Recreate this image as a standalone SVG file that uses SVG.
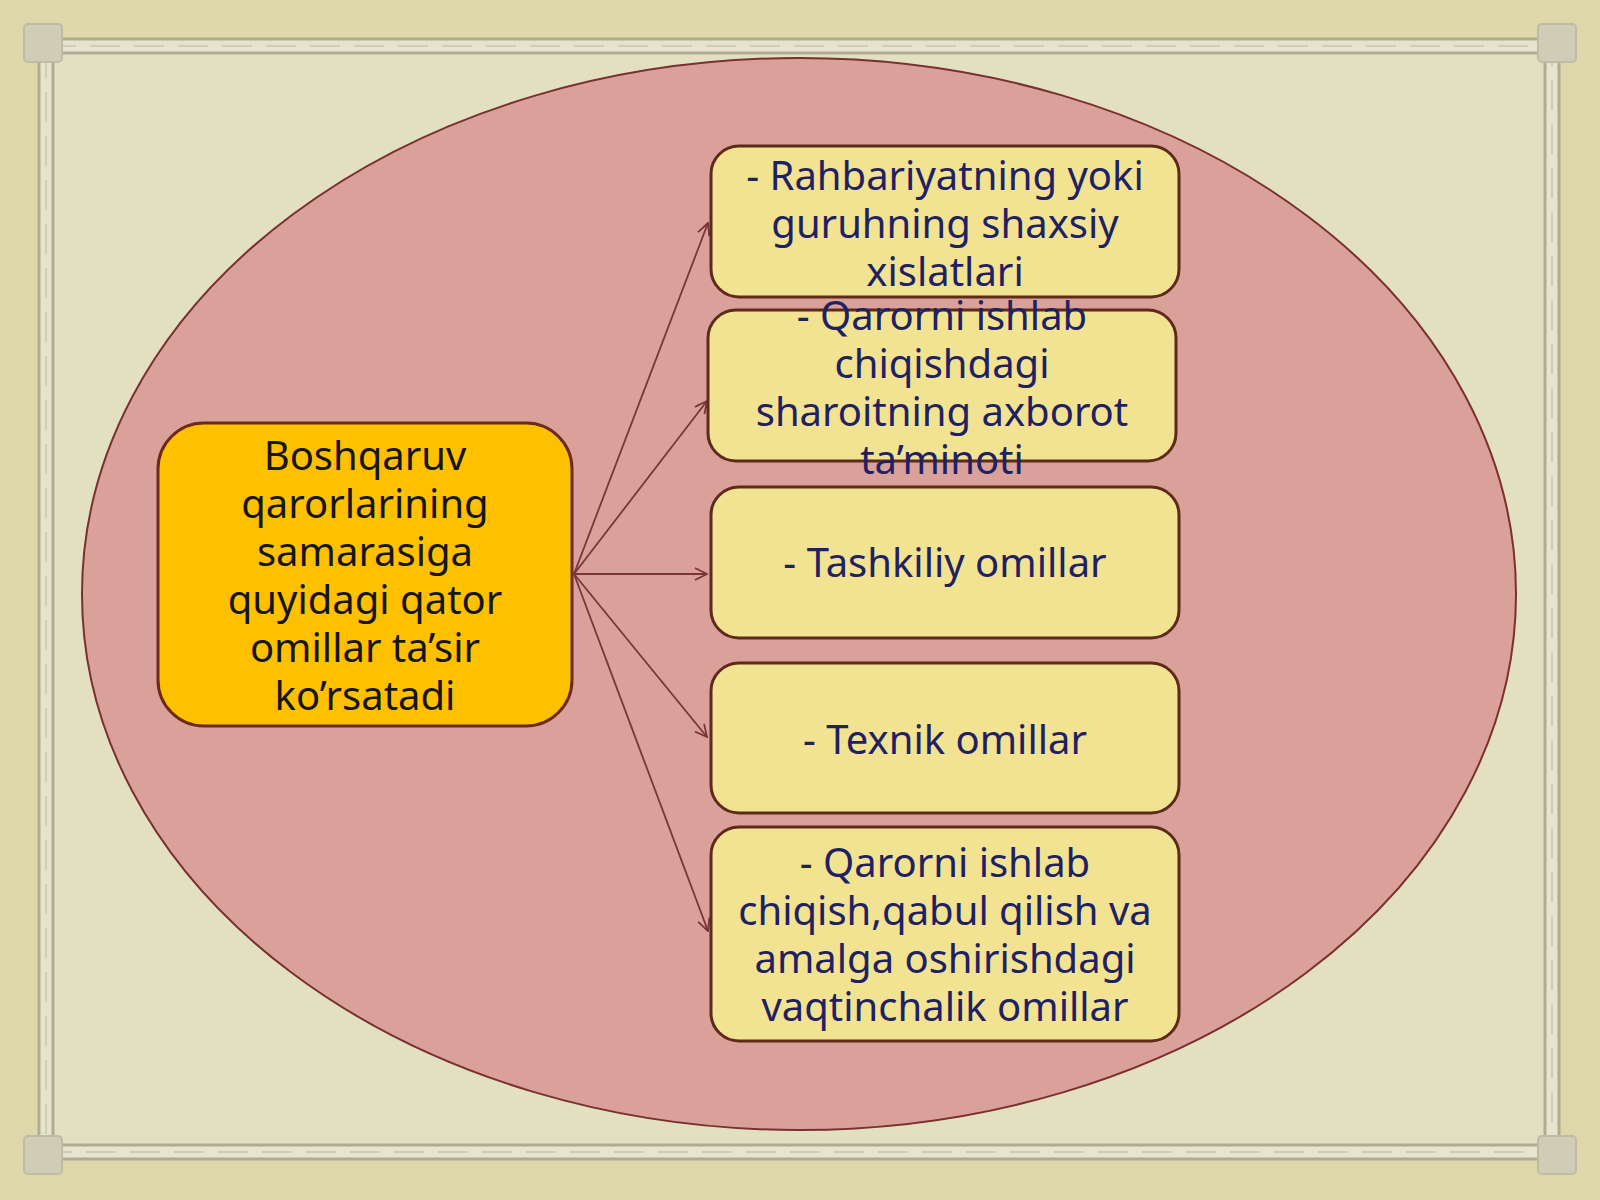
<svg xmlns="http://www.w3.org/2000/svg" width="1600" height="1200" viewBox="0 0 1600 1200">
<defs>
<style>
.bg{fill:#ddd7aa}
.inner{fill:#e3e0c2}
.band{fill:none;stroke:#e6e4cc;stroke-width:14}
.edge{fill:none;stroke:#aeac93;stroke-width:3}
.dash{fill:none;stroke:#cfcdb3;stroke-width:2;stroke-dasharray:30 14}
.orn{fill:#cfcdb6;stroke:#bebca5;stroke-width:2}
.main{fill:#ffc000;stroke:#6b2a1a;stroke-width:3}
.box{fill:#f1e392;stroke:#5e2a1a;stroke-width:3}
.t{font-family:"Noto Sans","Open Sans",sans-serif;font-size:40px;text-anchor:middle}
.tm{fill:#161616}
.tb{fill:#1f2163}
.conn{stroke:#7a3535;stroke-width:1.8;fill:none;marker-end:url(#ah)}
</style>
<marker id="ah" viewBox="0 0 14 14" refX="13" refY="7" markerWidth="14" markerHeight="14" markerUnits="userSpaceOnUse" orient="auto">
<path d="M1,1 L13,7 L1,13" fill="none" stroke="#7a3535" stroke-width="1.8"/>
</marker>
</defs>
<rect class="bg" x="0" y="0" width="1600" height="1200"/>
<rect class="inner" x="53" y="53" width="1492" height="1092"/>
<g id="frame">
<rect class="band" x="46" y="46" width="1506" height="1106"/>
<rect class="edge" x="39" y="39" width="1520" height="1120"/>
<rect class="edge" x="53" y="53" width="1492" height="1092"/>
<rect class="dash" x="46" y="46" width="1506" height="1106"/>
<rect class="orn" x="24" y="24" width="38" height="38" rx="4"/>
<rect class="orn" x="1538" y="24" width="38" height="38" rx="4"/>
<rect class="orn" x="24" y="1136" width="38" height="38" rx="4"/>
<rect class="orn" x="1538" y="1136" width="38" height="38" rx="4"/>
</g>
<g id="ellipse">
<ellipse cx="799" cy="594" rx="717" ry="536" fill="#d9a19a" stroke="#7a3030" stroke-width="2"/>
</g>
<g id="connectors">
<line class="conn" x1="574" y1="574" x2="708" y2="223"/>
<line class="conn" x1="574" y1="574" x2="707" y2="401"/>
<line class="conn" x1="574" y1="574" x2="707" y2="574"/>
<line class="conn" x1="574" y1="574" x2="707" y2="737"/>
<line class="conn" x1="574" y1="574" x2="708" y2="931"/>
</g>
<g id="main">
<rect class="main" x="158" y="423" width="414" height="303" rx="46"/>
<text class="t tm"><tspan x="365" y="470">Boshqaruv</tspan><tspan x="365" y="518">qarorlarining</tspan><tspan x="365" y="566">samarasiga</tspan><tspan x="365" y="614">quyidagi qator</tspan><tspan x="365" y="662">omillar ta’sir</tspan><tspan x="365" y="710">ko’rsatadi</tspan></text>
</g>
<g id="box1">
<rect class="box" x="711" y="146" width="468" height="151" rx="28"/>
<text class="t tb"><tspan x="945" y="190">- Rahbariyatning yoki</tspan><tspan x="945" y="238">guruhning shaxsiy</tspan><tspan x="945" y="286">xislatlari</tspan></text>
</g>
<g id="box2">
<rect class="box" x="708" y="310" width="468" height="151" rx="28"/>
<text class="t tb"><tspan x="942" y="330">- Qarorni ishlab</tspan><tspan x="942" y="378">chiqishdagi</tspan><tspan x="942" y="426">sharoitning axborot</tspan><tspan x="942" y="474">ta’minoti</tspan></text>
</g>
<g id="box3">
<rect class="box" x="711" y="487" width="468" height="151" rx="28"/>
<text class="t tb"><tspan x="945" y="577">- Tashkiliy omillar</tspan></text>
</g>
<g id="box4">
<rect class="box" x="711" y="663" width="468" height="150" rx="28"/>
<text class="t tb"><tspan x="945" y="754">- Texnik omillar</tspan></text>
</g>
<g id="box5">
<rect class="box" x="711" y="827" width="468" height="214" rx="28"/>
<text class="t tb"><tspan x="945" y="877">- Qarorni ishlab</tspan><tspan x="945" y="925">chiqish,qabul qilish va</tspan><tspan x="945" y="973">amalga oshirishdagi</tspan><tspan x="945" y="1021">vaqtinchalik omillar</tspan></text>
</g>
</svg>
